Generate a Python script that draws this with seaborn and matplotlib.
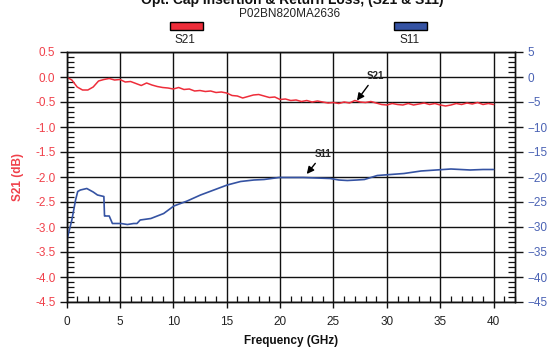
import matplotlib
matplotlib.use("Agg")
import matplotlib.pyplot as plt
from matplotlib.patches import Rectangle
from matplotlib.ticker import MultipleLocator
import numpy as np
import pandas as pd
import seaborn as sns

sns.set_theme(style="white")
plt.rcParams['font.family'] = ['Liberation Sans', 'DejaVu Sans']

title = "Opt. Cap Insertion & Return Loss, (S21 & S11)"
subtitle = "P02BN820MA2636"

s21_freq = [i * 0.5 for i in range(81)]
s21_db = [-0.00, -0.06, -0.20, -0.26, -0.26, -0.20, -0.08, -0.05, -0.03, -0.06,
          -0.05, -0.10, -0.09, -0.13, -0.17, -0.12, -0.16, -0.19, -0.21, -0.22,
          -0.24, -0.21, -0.25, -0.24, -0.28, -0.27, -0.29, -0.28, -0.31, -0.30,
          -0.32, -0.37, -0.38, -0.42, -0.39, -0.36, -0.35, -0.38, -0.41, -0.40,
          -0.45, -0.44, -0.47, -0.46, -0.49, -0.47, -0.50, -0.48, -0.50, -0.52,
          -0.51, -0.53, -0.50, -0.52, -0.47, -0.50, -0.51, -0.49, -0.52, -0.55,
          -0.56, -0.53, -0.55, -0.56, -0.53, -0.56, -0.54, -0.52, -0.55, -0.53,
          -0.56, -0.58, -0.56, -0.53, -0.55, -0.52, -0.54, -0.51, -0.55, -0.53,
          -0.55]

s11_freq = [0.0, 0.5, 0.85, 1.05, 1.3, 1.9, 2.5, 2.9, 3.5, 3.56, 3.65, 4.0, 4.3,
            5.1, 5.7, 6.3, 6.6, 6.9, 7.9, 9.1, 10.05, 11.3, 12.55, 13.8, 15.05,
            16.3, 17.55, 18.5, 19.9, 22.2, 24.7, 25.5, 26.3, 27.2, 27.9, 29.1,
            31.6, 33.2, 36.0, 37.8, 39.0, 40.0]
s11_db = [-32.9, -28.6, -24.6, -22.9, -22.6, -22.3, -23.0, -23.6, -23.9, -27.8,
          -27.8, -27.8, -29.3, -29.3, -29.5, -29.3, -29.3, -28.6, -28.3, -27.3,
          -25.8, -24.8, -23.6, -22.6, -21.6, -20.9, -20.6, -20.5, -20.1, -20.1,
          -20.3, -20.6, -20.7, -20.6, -20.5, -19.7, -19.3, -18.8, -18.4, -18.6,
          -18.5, -18.5]

s21_label_xy = (27.2, -0.47)
s21_label_text_xy = (28.9, 0.02)
s11_label_xy = (22.5, -1.94)
s11_label_text_xy = (24.0, -1.54)

RED = "#ee2d3a"
BLUE = "#3553a3"
RED_TXT = "#f0404a"
BLUE_TXT = "#4a62b4"

fig = plt.figure(figsize=(5.54, 3.47), dpi=100)
ax = fig.add_axes([66.5 / 554, 1 - 302 / 347, (515 - 66.5) / 554, 250 / 347])
ax2 = ax.twinx()

df21 = pd.DataFrame({"f": s21_freq, "v": s21_db})
df11 = pd.DataFrame({"f": s11_freq, "v": s11_db})
sns.lineplot(data=df21, x="f", y="v", ax=ax, color=RED, lw=1.1, estimator=None, sort=False)
sns.lineplot(data=df11, x="f", y="v", ax=ax2, color=BLUE, lw=1.2, estimator=None, sort=False)

ax.set_xlim(0, 42)
ax.set_ylim(-4.5, 0.5)
ax2.set_ylim(-45, 5)

ax.xaxis.set_major_locator(MultipleLocator(5))
ax.xaxis.set_minor_locator(MultipleLocator(1))
ax.yaxis.set_major_locator(MultipleLocator(0.5))
ax.yaxis.set_minor_locator(MultipleLocator(0.1))
ax2.yaxis.set_major_locator(MultipleLocator(5))
ax2.yaxis.set_minor_locator(MultipleLocator(1))

ax.set_xticks([0, 5, 10, 15, 20, 25, 30, 35, 40])
ax.set_yticks(np.arange(-4.5, 0.51, 0.5))
ax.set_yticklabels([f"{v:.1f}" for v in np.arange(-4.5, 0.51, 0.5)])
ax2.set_yticks(np.arange(-45, 6, 5))

ax.grid(True, which="major", color="#111111", lw=1.0)
ax.set_axisbelow(True)

for a in (ax, ax2):
    for s in a.spines.values():
        s.set_color("#111111")
        s.set_linewidth(1.0)

ax.tick_params(axis="x", which="major", direction="out", length=4, width=1, color="#111111",
               labelsize=8.5, labelcolor="#222222", pad=6, bottom=True)
ax.tick_params(axis="x", which="minor", direction="in", length=4, width=0.9, color="#111111", bottom=True)
ax.tick_params(axis="y", which="major", direction="out", length=5, width=1, color="#111111",
               labelsize=8.5, labelcolor=RED_TXT, pad=3, left=True)
ax.tick_params(axis="y", which="minor", direction="in", length=5, width=0.9, color="#111111", left=True)
ax2.tick_params(axis="y", which="major", direction="out", length=6, width=1, color="#111111",
                labelsize=8.5, labelcolor=BLUE_TXT, pad=3, right=True)
ax2.tick_params(axis="y", which="minor", direction="in", length=5, width=0.9, color="#111111", right=True)

ax.set_xlabel("Frequency (GHz)", fontsize=8.5, fontweight="bold", color="#111111", labelpad=5)
ax.set_ylabel("S21 (dB)", fontsize=8.5, fontweight="bold", color=RED_TXT, labelpad=8)
ax2.set_ylabel("")

arrow = dict(arrowstyle="-|>,head_length=0.6,head_width=0.3", color="black", lw=1.0,
             shrinkA=1, shrinkB=0)
ax.annotate("S21", xy=s21_label_xy, xytext=s21_label_text_xy, fontsize=7,
            fontweight="bold", ha="center", va="center", arrowprops=arrow)
ax.annotate("S11", xy=s11_label_xy, xytext=s11_label_text_xy, fontsize=7,
            fontweight="bold", ha="center", va="center", arrowprops=arrow)

# titles (top of the main title is clipped by the image edge, as in the reference)
fig.text(292 / 554, 1 - 4 / 347, title, ha="center", va="baseline", fontsize=10,
         fontweight="bold", color="#111111")
fig.text(290 / 554, 1 - 14 / 347, subtitle, ha="center", va="center", fontsize=8.5,
         color="#222222")

# legend
fig.add_artist(Rectangle((170 / 554, 1 - 29.5 / 347), 33 / 554, 7 / 347,
                         transform=fig.transFigure, facecolor=RED, edgecolor="black", lw=1))
fig.add_artist(Rectangle((394 / 554, 1 - 29.5 / 347), 33 / 554, 7 / 347,
                         transform=fig.transFigure, facecolor=BLUE, edgecolor="black", lw=1))
fig.text(185 / 554, 1 - 40 / 347, "S21", ha="center", va="center", fontsize=8.5, color="#222222")
fig.text(410 / 554, 1 - 40 / 347, "S11", ha="center", va="center", fontsize=8.5, color="#222222")

fig.savefig("out.png", dpi=100)
